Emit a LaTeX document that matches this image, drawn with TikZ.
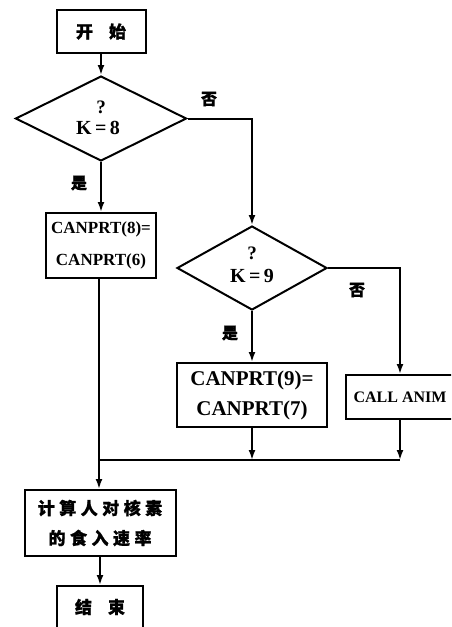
\documentclass[tikz,border=0pt]{standalone}
\usepackage{fontspec}
\setmainfont{Liberation Serif}
\newfontfamily\cjk{Noto Sans CJK SC}[BoldFeatures={FakeBold=1.2}]
\usetikzlibrary{shapes.geometric,arrows.meta}
\begin{document}
\begin{tikzpicture}[x=1pt,y=-1pt,
  box/.style={draw,line width=2pt,rectangle,inner sep=0pt,align=center},
  dia/.style={draw,line width=2pt,diamond,inner sep=0pt,aspect=2},
  conn/.style={line width=2pt},
  arr/.style={conn,-{Latex[length=10pt,width=7pt]}},
  zh/.style={font=\cjk\bfseries\fontsize{17}{30}\selectfont},
  lbl/.style={font=\cjk\bfseries\fontsize{16}{16}\selectfont,inner sep=0pt},
  lat/.style={font=\bfseries\fontsize{#1}{#1}\selectfont,inner sep=0pt},
  ]
\useasboundingbox (0,0) rectangle (451,627);
\clip (0,0) rectangle (451,627);
% nodes
\node[box,minimum width=89pt,minimum height=43pt,zh] (start) at (101,31.5) {开\hspace{16pt}始};
\node[dia,minimum width=171pt,minimum height=85pt] (d1) at (101,118.5) {};
\node[lat=19] (q1) at (101,107) {?};
\node[lat=20] (k1) at (98,128) {K\,=\,8};
\node[box,minimum width=110pt,minimum height=65pt,font=\bfseries\fontsize{17}{32}\selectfont] (c8) at (101,245.5) {CANPRT(8)=\\CANPRT(6)};
\node[dia,minimum width=150pt,minimum height=84pt] (d2) at (252,268) {};
\node[lat=19] (q2) at (252,253) {?};
\node[lat=20] (k2) at (252,276) {K\,=\,9};
\node[box,minimum width=150pt,minimum height=64pt,font=\bfseries\fontsize{21}{30}\selectfont] (c9) at (252,395) {CANPRT(9)=\\CANPRT(7)};
\node[box,minimum width=108pt,minimum height=44pt,font=\bfseries\fontsize{16}{16}\selectfont] (call) at (400,397) {CALL ANIM};
\node[box,minimum width=151pt,minimum height=66pt,zh] (calc) at (100,523) {计\hspace{4.5pt}算\hspace{4.5pt}人\hspace{4.5pt}对\hspace{4.5pt}核\hspace{4.5pt}素\\的\hspace{4.5pt}食\hspace{4.5pt}入\hspace{4.5pt}速\hspace{4.5pt}率};
\node[box,minimum width=86pt,minimum height=42pt,zh] (end) at (100,607) {结\hspace{16pt}束};
\coordinate (r1) at (252,118.5);
\coordinate (m0) at (99,460);
\coordinate (m1) at (c9.south |- 0,460);
\coordinate (m2) at (call.south |- 0,460);
% labels
\node[lbl] (no1) at (209,99) {否};
\node[lbl] (yes1) at (79,183) {是};
\node[lbl] (no2) at (357,290) {否};
\node[lbl] (yes2) at (230,333) {是};
% connectors
\draw[arr] (start.south -| d1.north) -- (d1.north);
\draw[arr] (d1.south) -- (c8.north);
\draw[arr] (d1.east) -- (r1) -- (d2.north);
\draw[arr] (d2.east) -| (call.north);
\draw[arr] (d2.south) -- (c9.north);
\draw[arr] (c8.south -| m0) -- (calc.north -| m0);
\draw[arr] (c9.south) -- (m1);
\draw[arr] (call.south) -- (m2);
\draw[conn] (m0) -- (m2);
\draw[arr] (calc.south -| end.north) -- (end.north);
\end{tikzpicture}
\end{document}
